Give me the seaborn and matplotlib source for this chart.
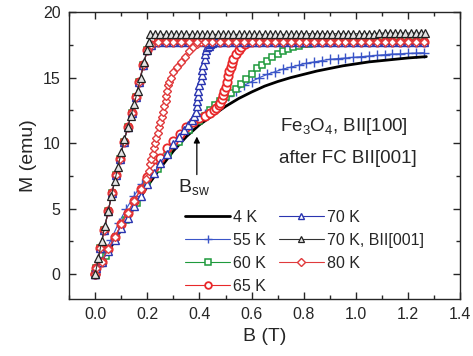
import seaborn as sns
import matplotlib.pyplot as plt
from matplotlib.ticker import MultipleLocator

# 4 K, B||[100] (solid line)
B_4K = [0, 0.05, 0.1, 0.15, 0.2, 0.25, 0.3, 0.35, 0.4, 0.45, 0.5, 0.55, 0.6, 0.65,
        0.7, 0.75, 0.8, 0.85, 0.9, 0.95, 1.0, 1.05, 1.1, 1.15, 1.2, 1.27]
M_4K = [0, 1.7, 3.4, 5.1, 6.7, 8.1, 9.4, 10.5, 11.4, 12.1, 12.8, 13.4, 13.9, 14.35,
        14.7, 15.0, 15.25, 15.5, 15.7, 15.9, 16.05, 16.2, 16.3, 16.4, 16.5, 16.6]

# 55 K
B_55K = [0, 0.03, 0.06, 0.09, 0.12, 0.15, 0.18, 0.21, 0.24, 0.27, 0.3, 0.33, 0.36, 0.39,
         0.42, 0.45, 0.48, 0.51, 0.54, 0.57, 0.6, 0.63, 0.66, 0.69, 0.72, 0.75, 0.78,
         0.81, 0.84, 0.87, 0.9, 0.93, 0.96, 0.99, 1.02, 1.05, 1.08, 1.11, 1.14, 1.17,
         1.2, 1.23, 1.26]
M_55K = [0, 1.3, 2.6, 3.9, 5.0, 6.0, 6.9, 7.7, 8.4, 9.1, 9.8, 10.5, 11.1, 11.7,
         12.2, 12.7, 13.2, 13.6, 14.0, 14.4, 14.7, 15.0, 15.25, 15.45, 15.65, 15.8, 15.95,
         16.1, 16.2, 16.3, 16.4, 16.45, 16.5, 16.55, 16.6, 16.65, 16.7, 16.75, 16.8, 16.82,
         16.85, 16.88, 16.9]

# 60 K (up sweep)
B_60K = [0, 0.04, 0.08, 0.12, 0.16, 0.2, 0.24, 0.28, 0.32, 0.36, 0.4, 0.42, 0.44, 0.46,
         0.48, 0.5, 0.52, 0.54, 0.56, 0.58, 0.6, 0.62, 0.64, 0.66, 0.68, 0.7, 0.72, 0.74,
         0.76, 0.78, 0.8, 0.82, 0.84, 0.86]
M_60K = [0, 1.4, 2.8, 4.1, 5.4, 6.8, 8.0, 9.1, 10.1, 11.0, 11.7, 12.1, 12.5, 12.9,
         13.2, 13.5, 13.8, 14.1, 14.5, 14.9, 15.3, 15.7, 16.0, 16.3, 16.6, 16.8, 17.0, 17.15,
         17.3, 17.45, 17.55, 17.6, 17.65, 17.7]

# 65 K (up sweep)
B_65K = [0, 0.025, 0.05, 0.075, 0.1, 0.125, 0.15, 0.175, 0.2, 0.225, 0.25, 0.275, 0.3,
         0.325, 0.35, 0.375, 0.4, 0.42, 0.44, 0.455, 0.465, 0.475, 0.48, 0.485, 0.49,
         0.495, 0.5, 0.505, 0.51, 0.515, 0.52, 0.525, 0.53, 0.54, 0.55, 0.56, 0.575, 0.59]
M_65K = [0, 0.95, 1.9, 2.8, 3.8, 4.7, 5.6, 6.5, 7.4, 8.2, 8.9, 9.6, 10.2,
         10.7, 11.2, 11.6, 11.9, 12.1, 12.3, 12.5, 12.7, 12.9, 13.1, 13.4, 13.7,
         14.0, 14.3, 14.7, 15.1, 15.5, 15.8, 16.1, 16.4, 16.8, 17.1, 17.35, 17.55, 17.7]

# 70 K (up sweep)
B_70K = [0, 0.025, 0.05, 0.075, 0.1, 0.125, 0.15, 0.175, 0.2, 0.225, 0.25, 0.275, 0.3,
         0.32, 0.34, 0.355, 0.37, 0.38, 0.385, 0.39, 0.39, 0.395, 0.395, 0.4, 0.405,
         0.41, 0.41, 0.415, 0.42, 0.42, 0.425, 0.43, 0.435, 0.44, 0.45, 0.465]
M_70K = [0, 0.9, 1.8, 2.6, 3.5, 4.3, 5.2, 6.0, 6.9, 7.7, 8.5, 9.2, 9.9,
         10.5, 11.0, 11.4, 11.8, 12.1, 12.4, 12.8, 13.2, 13.6, 14.0, 14.4, 14.8,
         15.2, 15.6, 16.0, 16.4, 16.8, 17.1, 17.3, 17.45, 17.55, 17.65, 17.7]

# 80 K (up sweep)
B_80K = [0, 0.025, 0.05, 0.075, 0.1, 0.125, 0.15, 0.175, 0.195, 0.205, 0.21, 0.215,
         0.22, 0.225, 0.23, 0.235, 0.24, 0.245, 0.25, 0.255, 0.26, 0.265, 0.27, 0.273,
         0.276, 0.28, 0.285, 0.29, 0.3, 0.315, 0.33, 0.345, 0.36, 0.375, 0.39, 0.405, 0.42]
M_80K = [0, 0.95, 1.9, 2.8, 3.8, 4.7, 5.6, 6.5, 7.3, 7.9, 8.4, 8.8,
         9.2, 9.6, 10.0, 10.4, 10.8, 11.2, 11.6, 12.0, 12.4, 12.8, 13.2, 13.6,
         14.0, 14.4, 14.7, 15.0, 15.4, 15.8, 16.2, 16.6, 17.0, 17.3, 17.55, 17.7, 17.8]

# down sweep shared by the switched curves (saturated, then easy-axis branch)
B_back = [1.26, 1.23, 1.2, 1.17, 1.14, 1.11, 1.08, 1.05, 1.02, 0.99, 0.96, 0.93, 0.9,
          0.87, 0.84, 0.81, 0.78, 0.75, 0.72, 0.69, 0.66, 0.63, 0.6, 0.57, 0.54, 0.51,
          0.48, 0.45, 0.42, 0.39, 0.36, 0.33, 0.3, 0.27, 0.24, 0.215, 0.2, 0.185, 0.17,
          0.155, 0.14, 0.125, 0.11, 0.095, 0.08, 0.065, 0.05, 0.035, 0.02, 0.005, 0]
M_back = [17.75, 17.75, 17.75, 17.75, 17.75, 17.75, 17.75, 17.75, 17.75, 17.75, 17.75,
          17.75, 17.75, 17.7, 17.7, 17.7, 17.7, 17.7, 17.7, 17.7, 17.7, 17.7, 17.7, 17.7,
          17.7, 17.7, 17.7, 17.7, 17.7, 17.7, 17.7, 17.7, 17.7, 17.7, 17.7, 17.5, 17.1,
          16.0, 14.7, 13.5, 12.3, 11.2, 10.1, 8.8, 7.6, 6.2, 4.8, 3.4, 2.0, 0.5, 0]

# 70 K, B||[001]
B_easy = [0, 0.0125, 0.025, 0.0375, 0.05, 0.0625, 0.075, 0.0875, 0.1, 0.1125, 0.125,
          0.1375, 0.15, 0.1625, 0.175, 0.1875, 0.2, 0.205, 0.212,
          0.23, 0.25, 0.27, 0.29, 0.31, 0.33, 0.35, 0.37, 0.39, 0.41,
          0.43, 0.45, 0.47, 0.49, 0.51, 0.53, 0.55, 0.57, 0.59, 0.61,
          0.63, 0.65, 0.67, 0.69, 0.71, 0.73, 0.75, 0.77, 0.79, 0.81,
          0.83, 0.85, 0.87, 0.89, 0.91, 0.93, 0.95, 0.97, 0.99, 1.01,
          1.03, 1.05, 1.07, 1.09, 1.11, 1.13, 1.15, 1.17, 1.19, 1.21,
          1.23, 1.25, 1.265]
M_easy = [0, 1.2, 2.5, 3.7, 4.8, 6.0, 7.1, 8.2, 9.3, 10.3, 11.2,
          12.1, 13.0, 14.0, 15.0, 16.2, 17.1, 17.7, 18.3,
          18.3, 18.3, 18.3, 18.3, 18.3, 18.3, 18.3, 18.3, 18.3, 18.3,
          18.3, 18.3, 18.3, 18.3, 18.3, 18.3, 18.3, 18.3, 18.3, 18.3,
          18.3, 18.3, 18.3, 18.3, 18.3, 18.3, 18.3, 18.3, 18.35, 18.35,
          18.35, 18.35, 18.35, 18.35, 18.35, 18.35, 18.35, 18.35, 18.35, 18.35,
          18.35, 18.35, 18.35, 18.4, 18.4, 18.4, 18.4, 18.4, 18.4, 18.4,
          18.4, 18.4, 18.4]

sns.set_style("ticks")
plt.rcParams["font.family"] = ["Liberation Sans", "DejaVu Sans"]
plt.rcParams["mathtext.fontset"] = "custom"
plt.rcParams["mathtext.rm"] = "Liberation Sans"
plt.rcParams["mathtext.it"] = "Liberation Sans:italic"

fig, ax = plt.subplots(figsize=(4.73, 3.56), dpi=100)
fig.subplots_adjust(left=0.146, right=0.973, bottom=0.160, top=0.966)

common = dict(sort=False, estimator=None, ax=ax, legend=False)

sns.lineplot(x=B_55K, y=M_55K, color="#3a55c8", linewidth=0.8, marker="+",
             markersize=7, markeredgewidth=1.0, markeredgecolor="#3a55c8",
             label="55 K", zorder=3, **common)
sns.lineplot(x=B_4K, y=M_4K, color="black", linewidth=2.0, label="4 K", zorder=4, **common)
sns.lineplot(x=B_60K + B_back, y=M_60K + M_back, color="#1e9a3c", linewidth=0.8,
             marker="s", markersize=5, markerfacecolor="white", markeredgecolor="#1e9a3c",
             markeredgewidth=1.1, label="60 K", zorder=4, **common)
sns.lineplot(x=B_65K + B_back, y=M_65K + M_back, color="#e8282a", linewidth=0.8,
             marker="o", markersize=6, markerfacecolor="white", markeredgecolor="#e8282a",
             markeredgewidth=1.3, label="65 K", zorder=5, **common)
sns.lineplot(x=B_70K + B_back, y=M_70K + M_back, color="#2a35b0", linewidth=0.8,
             marker="^", markersize=5.5, markerfacecolor="white", markeredgecolor="#2a35b0",
             markeredgewidth=1.0, label="70 K", zorder=6, **common)
sns.lineplot(x=B_80K + B_back, y=M_80K + M_back, color="#e03a3c", linewidth=0.8,
             marker="D", markersize=4.5, markerfacecolor="white", markeredgecolor="#e03a3c",
             markeredgewidth=1.0, label="80 K", zorder=6, **common)
sns.lineplot(x=B_easy, y=M_easy, color="#333333", linewidth=0.8,
             marker="^", markersize=5.5, markerfacecolor="#e4e4e4", markeredgecolor="#222222",
             markeredgewidth=0.9, label="70 K, BII[001]", zorder=7, **common)

ax.set_xlim(-0.1, 1.4)
ax.set_ylim(-1.9, 20)
ax.xaxis.set_major_locator(MultipleLocator(0.2))
ax.xaxis.set_minor_locator(MultipleLocator(0.1))
ax.yaxis.set_major_locator(MultipleLocator(5))
ax.yaxis.set_minor_locator(MultipleLocator(2.5))
ax.tick_params(which="both", direction="in", top=True, right=True, width=1.0)
ax.tick_params(which="major", length=5, labelsize=11.5, pad=6)
ax.tick_params(which="minor", length=3)
ax.xaxis.set_major_formatter(plt.FuncFormatter(lambda v, p: f"{v:.1f}"))
for s in ax.spines.values():
    s.set_linewidth(1.0)

ax.set_xlabel("B (T)", fontsize=14, labelpad=4)
ax.set_ylabel("M (emu)", fontsize=14, labelpad=4)

ax.text(0.71, 10.9, "Fe$_3$O$_4$, BII[100]", fontsize=13.5, ha="left", va="baseline")
ax.text(0.705, 8.5, "after FC BII[001]", fontsize=13.5, ha="left", va="baseline")
ax.text(0.316, 6.3, "B$_{\\mathrm{sw}}$", fontsize=14, ha="left", va="baseline")
ax.annotate("", xy=(0.39, 10.5), xytext=(0.39, 7.6),
            arrowprops=dict(arrowstyle="-|>", color="black", lw=0.9,
                            mutation_scale=9, shrinkA=0, shrinkB=0))

handles, labels = ax.get_legend_handles_labels()
order = ["4 K", "55 K", "60 K", "65 K", "70 K", "70 K, BII[001]", "80 K"]
hmap = dict(zip(labels, handles))
ax.legend([hmap[k] for k in order], order, ncol=2, loc="upper left",
          bbox_to_anchor=(0.297, 0.31), frameon=False, fontsize=11.5,
          handlelength=2.8, handletextpad=0.2, columnspacing=0.8,
          labelspacing=0.5, borderpad=0, borderaxespad=0, markerscale=0.8)

plt.savefig("out.png", dpi=100)
